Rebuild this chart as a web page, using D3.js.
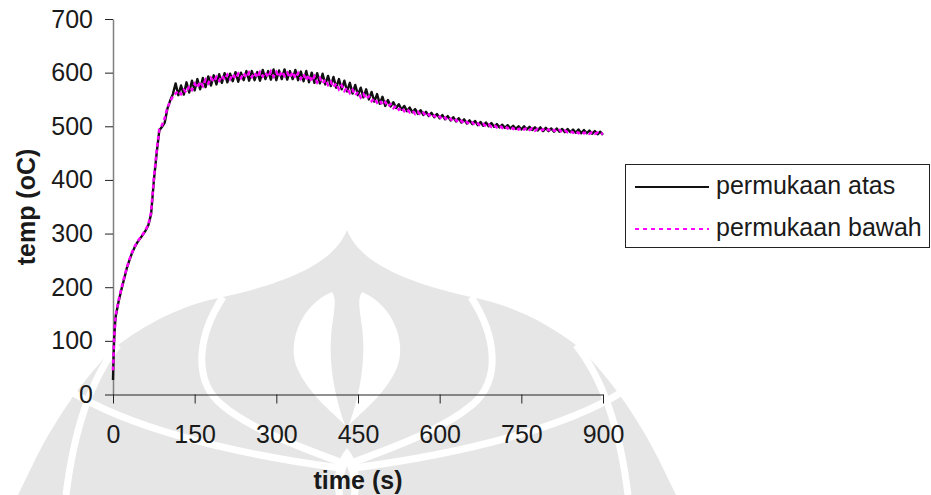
<!DOCTYPE html>
<html>
<head>
<meta charset="utf-8">
<script src="https://cdn.jsdelivr.net/npm/d3@7"></script>
<style>
  body { margin: 0; background: #fff; }
  svg { display: block; font-family: "Liberation Sans", Arial, sans-serif; }
</style>
</head>
<body>
<svg id="chart" width="931" height="495"></svg>
<script>
// time (s)
const time = [
  0, 1, 2, 3, 4,
  5, 10, 15, 20, 25, 30, 35, 40, 45, 50,
  55, 60, 65, 70, 75, 80, 85, 90, 95, 100,
  105, 110, 115, 120, 125, 130, 135, 140, 145, 150,
  155, 160, 165, 170, 175, 180, 185, 190, 195, 200,
  205, 210, 215, 220, 225, 230, 235, 240, 245, 250,
  255, 260, 265, 270, 275, 280, 285, 290, 295, 300,
  305, 310, 315, 320, 325, 330, 335, 340, 345, 350,
  355, 360, 365, 370, 375, 380, 385, 390, 395, 400,
  405, 410, 415, 420, 425, 430, 435, 440, 445, 450,
  455, 460, 465, 470, 475, 480, 485, 490, 495, 500,
  505, 510, 515, 520, 525, 530, 535, 540, 545, 550,
  555, 560, 565, 570, 575, 580, 585, 590, 595, 600,
  605, 610, 615, 620, 625, 630, 635, 640, 645, 650,
  655, 660, 665, 670, 675, 680, 685, 690, 695, 700,
  705, 710, 715, 720, 725, 730, 735, 740, 745, 750,
  755, 760, 765, 770, 775, 780, 785, 790, 795, 800,
  805, 810, 815, 820, 825, 830, 835, 840, 845, 850,
  855, 860, 865, 870, 875, 880, 885, 890, 895, 900
];

// permukaan atas (oC)
const atas = [
  27, 70, 100, 118, 135,
  146, 172, 194, 214, 234, 250, 264, 275, 284, 291,
  298, 306, 316, 336, 398, 448, 492, 499, 507, 533,
  548, 560, 580, 558, 576, 559, 582, 563, 585, 567,
  588, 569, 590, 573, 593, 576, 595, 578, 597, 581,
  599, 582, 598, 584, 601, 583, 600, 586, 603, 585,
  603, 586, 601, 585, 605, 588, 603, 587, 606, 586,
  604, 588, 606, 587, 603, 588, 605, 586, 602, 584,
  603, 582, 600, 581, 599, 580, 598, 578, 594, 575,
  592, 572, 588, 569, 585, 565, 581, 561, 577, 558,
  572, 554, 569, 550, 564, 546, 560, 542, 555, 538,
  549, 537, 545, 534, 541, 531, 538, 528, 535, 526,
  532, 523, 530, 521, 527, 519, 525, 517, 523, 515,
  521, 513, 519, 511, 517, 509, 515, 507, 513, 505,
  511, 504, 510, 502, 508, 501, 507, 500, 506, 499,
  504, 498, 503, 497, 502, 496, 501, 495, 500, 494,
  500, 494, 499, 493, 498, 492, 498, 491, 497, 491,
  496, 490, 496, 490, 495, 489, 495, 489, 494, 488,
  494, 487, 493, 487, 492, 486, 491, 485, 490, 484
];

// permukaan bawah (oC)
const bawah = [
  45, 75, 102, 120, 136,
  148, 174, 196, 216, 235, 251, 265, 276, 285, 292,
  299, 307, 317, 340, 402, 452, 494, 502, 515, 535,
  546, 556, 561, 566, 560, 568, 563, 575, 568, 579,
  572, 583, 575, 587, 580, 590, 583, 592, 585, 594,
  587, 596, 588, 597, 589, 598, 590, 599, 591, 600,
  592, 600, 591, 601, 593, 600, 592, 602, 593, 601,
  592, 602, 594, 600, 591, 601, 590, 599, 589, 597,
  586, 595, 584, 593, 582, 590, 580, 587, 577, 583,
  573, 580, 569, 576, 566, 572, 562, 568, 558, 564,
  554, 560, 551, 556, 547, 552, 544, 548, 540, 545,
  537, 541, 534, 538, 531, 535, 528, 532, 526, 529,
  523, 527, 521, 525, 519, 522, 517, 520, 515, 518,
  513, 516, 511, 514, 509, 512, 507, 510, 505, 508,
  504, 507, 502, 505, 501, 504, 500, 503, 499, 502,
  498, 501, 497, 500, 496, 499, 495, 498, 494, 497,
  494, 497, 493, 496, 492, 495, 492, 494, 491, 494,
  490, 493, 490, 493, 489, 492, 489, 491, 488, 491,
  487, 490, 487, 489, 486, 489, 486, 488, 485, 487
];

const xTicks = [0, 150, 300, 450, 600, 750, 900];
const yTicks = [0, 100, 200, 300, 400, 500, 600, 700];
const seriesNames = ["permukaan atas", "permukaan bawah"];

const svg = d3.select("#chart");

// faint watermark logo behind the chart
const wm = svg.append("g");
wm.append("path")
  .attr("fill", "#e6e6e6")
  .attr("d", "M347,230 C336,258 300,280 223,297 C180,305 145,325 118,345 C85,375 55,420 35,460 L18,495 " +
             "L676,495 L659,460 C639,420 609,375 576,345 C549,325 514,305 471,297 C394,280 358,258 347,230 Z");
wm.selectAll("path.gap")
  .data([
    "M223,297 C198,335 192,380 222,405 C252,430 300,447 340,462",
    "M471,297 C496,335 502,380 472,405 C442,430 394,447 354,462",
    "M118,345 C90,380 74,430 66,495",
    "M576,345 C604,380 620,430 628,495",
    "M72,392 C125,425 220,452 340,468",
    "M622,392 C569,425 474,452 354,468"
  ])
  .enter().append("path")
  .attr("class", "gap")
  .attr("d", d => d)
  .attr("fill", "none")
  .attr("stroke", "#fff")
  .attr("stroke-width", 7);
wm.selectAll("path.lobe")
  .data([
    "M332,292 C300,305 286,345 298,370 C310,395 330,410 345,425 C336,400 326,360 333,320 C335,305 336,298 332,292 Z",
    "M362,292 C394,305 408,345 396,370 C384,395 364,410 349,425 C358,400 368,360 361,320 C359,305 358,298 362,292 Z",
    "M347,448 C335,462 333,480 336,495 L358,495 C361,480 359,462 347,448 Z"
  ])
  .enter().append("path")
  .attr("class", "lobe")
  .attr("d", d => d)
  .attr("fill", "#fff");
wm.append("path")
  .attr("fill", "#e6e6e6")
  .attr("d", "M347,466 C343,476 342,486 343,495 L351,495 C352,486 351,476 347,466 Z");

const x = d3.scaleLinear().domain([0, 900]).range([113, 603]);
const y = d3.scaleLinear().domain([0, 700]).range([394.5, 19]);

// y axis
const yAxis = svg.append("g")
  .attr("transform", "translate(113,0)")
  .call(d3.axisLeft(y).tickValues(yTicks).tickSize(8).tickPadding(12).tickSizeOuter(0));
yAxis.select(".domain").attr("stroke", "#808080").attr("stroke-width", 1.5);
yAxis.selectAll(".tick line").attr("stroke", "#222");
yAxis.selectAll(".tick text")
  .attr("font-size", 25).attr("fill", "#1a1a1a")
  .attr("font-family", "Liberation Sans, Arial, sans-serif");

// x axis
const xAxis = svg.append("g")
  .attr("transform", "translate(0,394.5)")
  .call(d3.axisBottom(x).tickValues(xTicks).tickSize(9).tickPadding(22).tickSizeOuter(0));
xAxis.select(".domain").attr("stroke", "#222");
xAxis.selectAll(".tick line").attr("stroke", "#222");
xAxis.selectAll(".tick text")
  .attr("font-size", 25).attr("fill", "#1a1a1a")
  .attr("font-family", "Liberation Sans, Arial, sans-serif");

// axis titles
svg.append("text")
  .attr("transform", "translate(26,207) rotate(-90)")
  .attr("text-anchor", "middle")
  .attr("dominant-baseline", "central")
  .attr("font-size", 25).attr("font-weight", "bold").attr("fill", "#1a1a1a")
  .text("temp (oC)");
svg.append("text")
  .attr("x", 358).attr("y", 489)
  .attr("text-anchor", "middle")
  .attr("font-size", 25).attr("font-weight", "bold").attr("fill", "#1a1a1a")
  .text("time (s)");

// lines
const line = vals => d3.line()
  .x((d, i) => x(time[i]))
  .y(d => y(d))(vals);

svg.append("path")
  .attr("d", line(atas))
  .attr("fill", "none")
  .attr("stroke", "#111")
  .attr("stroke-width", 2.4)
  .attr("stroke-linejoin", "round");

svg.append("path")
  .attr("d", line(bawah))
  .attr("fill", "none")
  .attr("stroke", "#ff00ff")
  .attr("stroke-width", 2.6)
  .attr("stroke-dasharray", "4,3");

// legend
const legend = svg.append("g");
legend.append("rect")
  .attr("x", 625.5).attr("y", 164.5)
  .attr("width", 304).attr("height", 83)
  .attr("fill", "#fff").attr("stroke", "#222").attr("stroke-width", 1);

const rows = legend.selectAll("g.row")
  .data(seriesNames)
  .enter().append("g")
  .attr("class", "row")
  .attr("transform", (d, i) => `translate(0,${187 + i * 42})`);
rows.append("line")
  .attr("x1", 635).attr("x2", 709)
  .attr("stroke", (d, i) => i === 0 ? "#111" : "#ff00ff")
  .attr("stroke-width", 2)
  .attr("stroke-dasharray", (d, i) => i === 0 ? null : "4,4");
rows.append("text")
  .attr("x", 716).attr("y", 7)
  .attr("font-size", 25).attr("fill", "#1a1a1a")
  .text(d => d);
</script>
</body>
</html>
